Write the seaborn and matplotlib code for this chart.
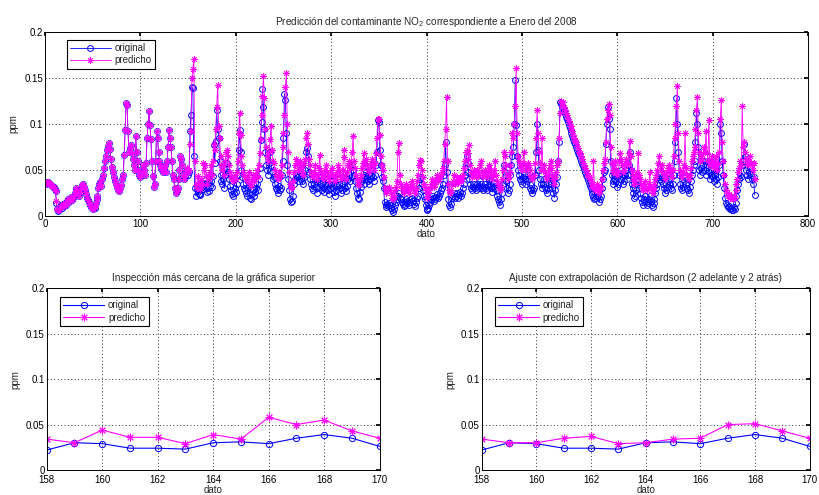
import numpy as np
import pandas as pd
import matplotlib
matplotlib.use("Agg")
import matplotlib.pyplot as plt
import seaborn as sns

# ---- data (thousandths of ppm), x = 1..744 ----
original = [
    35,37,37,36,35,34,33,32,31,29,
    27,14,8,5,7,10,12,9,13,11,
    14,12,16,18,15,19,21,17,20,22,
    25,28,30,27,24,22,26,30,34,35,
    32,28,24,20,17,15,12,10,9,8,
    11,9,14,18,22,30,35,37,33,40,
    45,52,60,65,72,76,79,73,62,53,
    48,42,38,35,32,30,28,27,30,34,
    40,45,66,93,123,121,92,70,74,77,
    68,62,55,50,87,70,60,50,45,42,
    45,48,55,50,45,58,85,100,114,99,
    84,60,43,32,35,60,92,85,70,60,
    55,52,50,48,52,55,48,60,75,93,
    85,75,60,45,40,30,25,27,30,40,
    50,65,62,55,45,40,42,48,50,45,
    48,92,110,140,139,65,30,22,30,29,
    24,24,23,30,31,29,35,39,35,26,
    30,27,33,38,32,44,77,58,82,115,
    95,85,60,45,38,35,40,30,45,52,
    58,48,40,33,28,24,22,25,30,26,
    35,45,72,94,70,50,42,35,30,28,
    25,22,30,33,20,18,24,28,22,26,
    30,35,28,40,52,83,102,138,118,95,
    70,55,50,45,58,70,55,48,40,42,
    35,30,28,25,33,28,30,45,60,85,
    133,126,90,55,40,28,18,15,16,22,
    35,40,45,42,38,45,50,40,38,35,
    45,42,50,70,74,65,48,40,35,30,
    28,35,40,32,25,30,38,42,35,28,
    32,26,30,35,40,33,28,24,30,35,
    38,30,26,22,28,33,40,35,30,25,
    28,35,42,38,30,27,33,40,45,38,
    42,55,50,45,38,30,25,20,19,26,
    32,38,42,35,40,45,48,42,38,35,
    40,45,50,42,38,45,55,70,104,102,
    72,55,42,38,30,15,12,10,13,11,
    14,12,9,6,4,8,12,15,18,22,
    25,20,18,15,13,11,12,15,18,16,
    14,12,15,18,20,16,13,11,15,20,
    22,30,40,42,35,28,22,18,12,8,
    7,9,12,15,18,22,20,16,18,21,
    24,20,22,25,28,30,35,45,55,80,
    48,35,18,12,10,13,20,22,25,20,
    22,25,20,23,26,22,25,30,35,45,
    55,65,58,48,40,35,30,28,32,35,
    30,28,35,33,30,38,35,30,28,32,
    35,30,28,33,38,40,35,30,26,32,
    36,30,28,22,18,15,12,18,25,35,
    55,48,38,30,25,28,35,45,55,65,
    75,100,148,99,65,50,45,40,38,35,
    42,45,40,35,38,45,40,35,30,28,
    25,28,30,45,70,100,72,50,40,35,
    30,35,40,32,28,25,30,35,38,42,
    35,30,25,20,28,35,42,60,80,124,
    122,120,117,114,111,108,105,102,99,96,
    93,90,87,84,81,78,75,72,69,66,
    63,60,57,54,51,48,45,42,39,36,
    33,30,27,24,21,18,20,22,25,22,
    15,18,22,30,40,48,50,78,100,118,
    105,95,60,45,38,35,40,45,38,32,
    35,45,40,50,42,35,38,45,50,40,
    45,55,70,50,35,30,25,20,22,28,
    35,38,30,25,20,15,12,18,22,15,
    12,14,18,22,16,12,10,14,18,25,
    30,35,42,45,40,38,42,35,30,25,
    28,32,38,40,35,30,28,35,45,60,
    80,128,100,70,45,35,30,28,32,38,
    42,35,30,28,25,32,38,45,50,55,
    60,80,112,100,75,50,45,52,48,55,
    60,50,45,55,60,48,40,45,50,42,
    38,45,50,40,35,42,55,100,90,60,
    45,30,20,14,12,10,11,8,9,7,
    6,10,8,14,22,28,35,40,45,42,
    55,60,78,65,50,45,40,48,52,45,
    40,35,42,23,
]

predicho = [
    35,37,37,36,35,34,33,32,31,29,
    27,16,8,6,7,10,12,10,13,11,
    14,12,16,18,15,19,21,17,20,22,
    25,28,30,27,24,22,26,30,34,35,
    32,28,24,20,17,15,12,10,9,8,
    11,10,14,18,22,30,35,37,33,40,
    45,52,60,65,72,76,79,73,62,53,
    48,42,38,35,32,30,28,27,30,34,
    40,45,66,93,123,121,92,70,74,77,
    68,62,55,50,87,70,60,50,45,42,
    45,48,55,50,45,58,85,100,114,99,
    84,60,43,32,35,60,92,85,70,60,
    55,52,50,48,52,55,48,60,75,93,
    85,75,60,45,40,30,25,27,30,40,
    50,65,62,55,45,40,45,50,52,48,
    50,78,92,150,160,171,60,34,30,44,
    36,36,29,39,34,58,50,55,43,35,
    45,40,48,55,45,60,78,72,95,118,
    142,98,85,65,55,50,55,45,60,70,
    72,65,55,48,42,40,38,42,45,40,
    48,60,90,112,88,65,55,48,45,42,
    40,38,45,48,35,33,40,45,38,42,
    45,50,42,55,68,84,110,130,152,128,
    95,75,65,60,70,84,98,72,60,58,
    50,45,42,40,48,42,45,55,75,90,
    110,140,155,100,70,48,35,30,32,38,
    48,55,62,58,50,58,60,52,48,45,
    55,58,62,85,90,78,62,55,48,45,
    42,48,55,45,40,45,52,66,48,42,
    45,40,45,50,55,48,42,38,45,50,
    52,45,40,38,42,48,55,50,45,40,
    42,50,64,72,45,40,48,55,60,52,
    58,70,87,60,52,45,40,35,34,40,
    45,52,58,68,55,60,62,55,50,48,
    52,58,62,55,50,58,68,85,106,105,
    88,65,55,50,42,30,28,25,30,28,
    32,28,25,20,18,22,28,32,38,70,
    79,45,35,30,28,25,28,32,35,30,
    28,25,30,35,38,32,28,25,30,38,
    45,55,61,60,50,42,35,32,28,22,
    20,25,28,30,35,40,38,32,35,40,
    45,38,40,42,45,48,52,60,78,95,
    129,60,35,28,25,28,35,38,45,35,
    38,42,36,40,42,38,40,45,52,60,
    70,72,68,62,77,55,48,42,45,50,
    45,42,50,48,45,55,60,48,42,45,
    50,45,42,48,52,55,50,45,40,45,
    50,60,45,38,35,30,28,32,40,50,
    70,65,55,45,40,42,48,55,70,90,
    85,100,120,161,90,65,60,55,52,50,
    58,70,55,50,52,58,55,50,45,42,
    40,42,45,58,85,115,90,70,58,50,
    85,50,55,48,42,40,45,50,55,60,
    52,45,40,35,42,48,55,60,85,112,
    125,120,124,118,115,112,110,106,103,100,
    98,95,92,88,85,82,80,76,74,70,
    68,65,62,58,55,52,50,47,44,42,
    40,38,35,32,60,30,28,32,35,30,
    25,28,32,40,50,58,62,80,105,115,
    122,110,75,58,50,48,55,60,50,45,
    48,60,68,62,55,48,50,58,62,55,
    58,68,82,65,50,45,40,35,38,42,
    48,68,45,40,35,30,28,32,38,30,
    28,30,35,48,32,28,25,30,35,40,
    45,50,58,65,55,50,55,48,45,40,
    42,48,52,55,50,45,42,50,65,85,
    100,120,141,90,60,50,45,42,48,55,
    90,52,45,42,40,45,52,60,65,70,
    75,95,115,129,90,70,60,65,62,68,
    75,70,92,68,60,104,55,60,65,58,
    52,60,65,55,50,58,70,105,126,80,
    60,45,35,28,25,22,24,20,22,20,
    18,22,20,28,35,40,48,52,60,55,
    120,75,80,70,62,58,55,60,65,58,
    55,50,58,40,
]

# Richardson-adjusted prediction for the zoomed window
rich_x = [158,159,160,161,162,163,164,165,166,167,168,169,170]
rich_pred = [34,30,30,35,37,29,30,34,35,50,51,43,35]

top_title = "Predicción del contaminante NO$_2$ correspondiente a Enero del 2008"
bl_title = "Inspección más cercana de la gráfica superior"
br_title = "Ajuste con extrapolación de Richardson (2 adelante y 2 atrás)"

# ---- build frames ----
orig_df = pd.DataFrame({"dato": np.arange(1, len(original) + 1),
                        "ppm": np.array(original) / 1000.0})
pred_df = pd.DataFrame({"dato": np.arange(1, len(predicho) + 1),
                        "ppm": np.array(predicho) / 1000.0})
rich_df = pd.DataFrame({"dato": rich_x, "ppm": np.array(rich_pred) / 1000.0})

sns.set_theme(style="white")
plt.rcParams["font.family"] = ["Liberation Sans", "DejaVu Sans"]
plt.rcParams["mathtext.fontset"] = "custom"
plt.rcParams["mathtext.rm"] = "Liberation Sans"

fig = plt.figure(figsize=(8.2, 4.95), dpi=100)
fig.patch.set_facecolor("white")

ax_top = fig.add_axes([0.0549, 0.5636, 0.9305, 0.3717])
ax_bl = fig.add_axes([0.057, 0.0505, 0.406, 0.367])
ax_br = fig.add_axes([0.5874, 0.0505, 0.400, 0.367])

BLUE = "#0000ff"
MAG = "#ff00ff"
ASTERISK = (8, 2, 0)


def draw(ax, odf, pdf, ms_o, ms_p, lw, mew_p):
    sns.lineplot(data=odf, x="dato", y="ppm", ax=ax, color=BLUE, marker="o",
                 markerfacecolor="none", markeredgecolor=BLUE, markersize=ms_o,
                 markeredgewidth=0.7, linewidth=lw, label="original",
                 estimator=None, sort=False)
    sns.lineplot(data=pdf, x="dato", y="ppm", ax=ax, color=MAG, marker=ASTERISK,
                 markerfacecolor=MAG, markeredgecolor=MAG, markersize=ms_p,
                 markeredgewidth=mew_p, linewidth=lw, label="predicho",
                 estimator=None, sort=False)


def style(ax, xticks, xlim, title, xpad):
    ax.set_xlim(*xlim)
    ax.set_ylim(0, 0.2)
    ax.set_xticks(xticks)
    ax.set_yticks([0, 0.05, 0.1, 0.15, 0.2])
    ax.set_yticklabels(["0", "0.05", "0.1", "0.15", "0.2"])
    ax.set_xticklabels([str(t) for t in xticks])
    ax.grid(True, linestyle=(0, (1, 2.5)), color="#333333", linewidth=0.7)
    ax.tick_params(direction="in", top=True, right=True, length=3,
                   labelsize=7, colors="black")
    ax.tick_params(axis="x", pad=xpad)
    ax.tick_params(axis="y", pad=1.5)
    for s in ax.spines.values():
        s.set_color("black")
        s.set_linewidth(0.7)
        s.set_visible(True)
    ax.set_xlabel("dato", fontsize=7, labelpad=0)
    ax.set_ylabel("ppm", fontsize=7, labelpad=4)
    ax.set_title(title, fontsize=7.2, pad=5)
    ax.set_facecolor("white")


def legend(ax, anchor):
    leg = ax.legend(loc="upper left", bbox_to_anchor=anchor, fontsize=7,
                    frameon=True, fancybox=False, edgecolor="black",
                    framealpha=1, handlelength=4.2, borderpad=0.35,
                    labelspacing=0.25, handletextpad=0.4)
    leg.get_frame().set_linewidth(0.8)


draw(ax_top, orig_df, pred_df, 4.2, 4.6, 0.6, 0.6)
style(ax_top, list(range(0, 801, 100)), (0, 800), top_title, 2.5)
legend(ax_top, (0.022, 0.985))

draw(ax_bl, orig_df, pred_df, 4.5, 5.5, 0.8, 0.7)
style(ax_bl, list(range(158, 171, 2)), (158, 170), bl_title, 3.5)
legend(ax_bl, (0.025, 0.98))

draw(ax_br, orig_df, rich_df, 4.5, 5.5, 0.8, 0.7)
style(ax_br, list(range(158, 171, 2)), (158, 170), br_title, 3.5)
legend(ax_br, (0.025, 0.98))

fig.savefig("out.png", dpi=100, facecolor="white")
